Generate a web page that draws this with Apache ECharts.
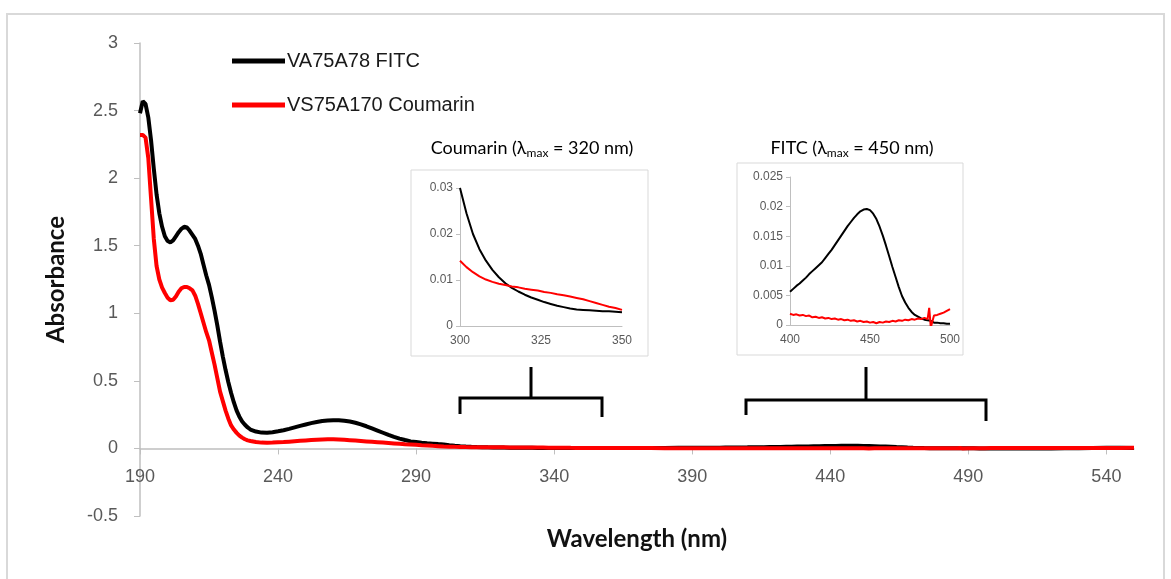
<!DOCTYPE html>
<html>
<head>
<meta charset="utf-8">
<script src="https://cdn.jsdelivr.net/npm/echarts@6/dist/echarts.min.js"></script>
<style>
  html, body { margin: 0; padding: 0; background: #fff; }
  #chart { width: 1171px; height: 579px; }
</style>
</head>
<body>
<div id="chart"></div>
<script>
// UV-Vis absorbance spectra, read in segments (wavelength in nm)
const wlA = [190,191,192,193,194,195,196,197,198,199,200,201,202,203,204,205,206,207,208,209,210,211,212,213,214,215,216,217,218,219,220,221,222,223,224,225,226,227,228,229,230,232,234,236,238,240,242,244,246,248,250,252,254,256,258,260,262,264,266,268,270,272,274,276,278,280,282,284,286,288,290,292,294,296,298];
const fitcA = [2.48,2.57,2.55,2.45,2.28,2.07,1.88,1.74,1.64,1.57,1.535,1.525,1.54,1.57,1.60,1.625,1.64,1.635,1.61,1.58,1.55,1.50,1.44,1.36,1.28,1.21,1.12,1.02,0.91,0.79,0.68,0.58,0.49,0.41,0.34,0.28,0.235,0.20,0.175,0.155,0.14,0.125,0.117,0.116,0.12,0.127,0.135,0.145,0.156,0.167,0.177,0.187,0.196,0.203,0.207,0.209,0.208,0.205,0.199,0.19,0.178,0.164,0.148,0.132,0.116,0.10,0.086,0.073,0.062,0.052,0.047,0.042,0.038,0.035,0.032];
const coumA = [2.32,2.32,2.30,2.15,1.85,1.55,1.35,1.25,1.19,1.15,1.115,1.096,1.10,1.125,1.16,1.185,1.195,1.195,1.185,1.17,1.13,1.07,1.00,0.93,0.86,0.80,0.71,0.62,0.52,0.42,0.35,0.28,0.22,0.17,0.14,0.115,0.095,0.08,0.068,0.06,0.055,0.047,0.043,0.042,0.043,0.045,0.047,0.050,0.053,0.056,0.059,0.062,0.064,0.066,0.067,0.067,0.066,0.064,0.061,0.058,0.055,0.052,0.049,0.046,0.043,0.040,0.037,0.034,0.031,0.029,0.027,0.024,0.022,0.019,0.017];

// 300-350 nm (Coumarin inset range)
const wlCoumRange = [300,302,304,306,308,310,312,314,316,318,320,322,324,326,328,330,332,334,336,338,340,342,344,346,348,350];
const fitcCoumRange = [0.030,0.0245,0.020,0.0167,0.0142,0.0122,0.0106,0.0093,0.0083,0.0075,0.0068,0.0062,0.0057,0.0052,0.0048,0.0044,0.0041,0.0038,0.0036,0.0035,0.0034,0.0033,0.0032,0.0032,0.0031,0.0030];
const coumCoumRange = [0.0142,0.0128,0.0117,0.0108,0.0101,0.0096,0.0092,0.0089,0.0086,0.0084,0.0081,0.0079,0.0077,0.0074,0.0072,0.0069,0.0067,0.0064,0.0061,0.0058,0.0054,0.0050,0.0046,0.0042,0.0039,0.0035];

const wlB = [355,360,365,370,375,380,385,390,395];
const fitcB = [0.0028,0.0027,0.0028,0.0030,0.0033,0.0037,0.0043,0.0050,0.0055];
const coumB = [0.0032,0.0030,0.0029,0.0027,0.0025,0.0022,0.0020,0.0019,0.0018];

// 400-500 nm (FITC inset range)
const wlFitcRange = [400,402,404,406,408,410,412,414,416,418,420,422,424,426,428,430,432,434,436,438,440,442,444,446,448,450,452,454,456,458,460,462,464,466,468,470,472,474,476,478,480,482,484,486,487,488,490,492,494,496,498,500];
const fitcFitcRange = [0.0056,0.0061,0.0066,0.0070,0.0075,0.0080,0.0086,0.0091,0.0096,0.0101,0.0106,0.0113,0.0120,0.0127,0.0135,0.0143,0.0151,0.0159,0.0167,0.0174,0.0181,0.0187,0.0192,0.0195,0.0196,0.0194,0.0188,0.0179,0.0166,0.0151,0.0134,0.0116,0.0098,0.0081,0.0064,0.0049,0.0038,0.0029,0.0022,0.0017,0.0014,0.0011,0.0009,0.0008,0.0008,0.0007,0.0004,0.0004,0.0003,0.0003,0.0002,0.0002];
const coumFitcRange = [0.0019,0.0017,0.0018,0.0016,0.0017,0.0015,0.0016,0.0013,0.0014,0.0012,0.0013,0.0011,0.0012,0.0010,0.0011,0.0009,0.0010,0.0008,0.0009,0.0007,0.0008,0.0006,0.0007,0.0005,0.0006,0.0004,0.0005,0.0003,0.0005,0.0004,0.0006,0.0005,0.0007,0.0006,0.0008,0.0007,0.0009,0.0008,0.0010,0.0009,0.0011,0.0010,0.0012,0.0010,0.0029,-0.0004,0.0016,0.0017,0.0019,0.0021,0.0024,0.0027];

const wlC = [505,510,515,520,525,530,535,540,545,550];
const fitcC = [0.0002,0.0002,0.0003,0.0003,0.0004,0.0005,0.004,0.005,0.005,0.004];
const coumC = [0.0030,0.0033,0.0035,0.0036,0.0037,0.0038,0.0039,0.0040,0.0040,0.0041];

const xTicks = [190,240,290,340,390,440,490,540];
const seriesNames = ['VA75A78 FITC', 'VS75A170 Coumarin'];
const insetTitles = [
  '{a|Coumarin (λ}{s|max}{a| = 320 nm)}',
  '{a|FITC (λ}{s|max}{a| = 450 nm)}'
];

function pairs(xs, ys) { return xs.map((x, i) => [x, ys[i]]); }
const fitcAll = [].concat(pairs(wlA, fitcA), pairs(wlCoumRange, fitcCoumRange), pairs(wlB, fitcB), pairs(wlFitcRange, fitcFitcRange), pairs(wlC, fitcC));
const coumAll = [].concat(pairs(wlA, coumA), pairs(wlCoumRange, coumCoumRange), pairs(wlB, coumB), pairs(wlFitcRange, coumFitcRange), pairs(wlC, coumC));

const NUM_FONT = '"Liberation Sans", Arial, sans-serif';
const TITLE_FONT = 'Lato, "Open Sans", sans-serif';
const AXIS_GRAY = '#bfbfbf';
const LABEL_GRAY = '#595959';

// main plot area and y range; the wavelength axis is drawn where absorbance = 0
const MAIN = { left: 140, right: 37, top: 43, bottom: 63 };
const Y_MIN = -0.5, Y_MAX = 3;
const mainHeight = 579 - MAIN.top - MAIN.bottom;
const zeroOffset = (0 - Y_MIN) / (Y_MAX - Y_MIN) * mainHeight;

function insetAxes(gridIndex, xmin, xmax, xint, ymax, yint) {
  return {
    x: {
      type: 'value', gridIndex, min: xmin, max: xmax, interval: xint,
      axisLine: { lineStyle: { color: AXIS_GRAY } },
      axisTick: { show: false },
      splitLine: { show: false },
      axisLabel: { color: LABEL_GRAY, fontFamily: NUM_FONT, fontSize: 12, margin: 9 }
    },
    y: {
      type: 'value', gridIndex, min: 0, max: ymax, interval: yint,
      axisLine: { show: true, lineStyle: { color: AXIS_GRAY } },
      axisTick: { show: true, inside: false, length: 4, lineStyle: { color: AXIS_GRAY } },
      splitLine: { show: false },
      axisLabel: { color: LABEL_GRAY, fontFamily: NUM_FONT, fontSize: 12, margin: 7 }
    }
  };
}
const in1 = insetAxes(1, 300, 350, 25, 0.03, 0.01);
const in2 = insetAxes(2, 400, 500, 50, 0.025, 0.005);

const chart = echarts.init(document.getElementById('chart'), null, { renderer: 'canvas' });

const titleRich = {
  a: { fontFamily: TITLE_FONT, fontSize: 18, fill: '#000', lineHeight: 22 },
  s: { fontFamily: TITLE_FONT, fontSize: 12, fill: '#000', lineHeight: 9, verticalAlign: 'bottom' }
};

const option = {
  backgroundColor: '#ffffff',
  animation: false,
  legend: {
    orient: 'vertical',
    left: 227, top: 46,
    itemWidth: 53, itemHeight: 5, itemGap: 24,
    icon: 'rect',
    data: seriesNames,
    textStyle: { fontFamily: NUM_FONT, fontSize: 20, color: '#1a1a1a', padding: [0, 0, 0, -3] }
  },
  grid: [
    { left: MAIN.left, right: MAIN.right, top: MAIN.top, bottom: MAIN.bottom, outerBoundsMode: 'none' },
    { left: 460, width: 162, top: 188, height: 138, outerBoundsMode: 'none' },
    { left: 790, width: 160, top: 177, height: 148, outerBoundsMode: 'none' }
  ],
  xAxis: [
    {
      type: 'value', gridIndex: 0, min: 190, max: 550,
      position: 'bottom', offset: -zeroOffset,
      name: 'Wavelength (nm)', nameLocation: 'middle', nameGap: 79,
      nameTextStyle: { fontFamily: TITLE_FONT, fontWeight: 'bold', fontSize: 24, color: '#111' },
      axisLine: { onZero: false, lineStyle: { color: AXIS_GRAY, width: 1.5 } },
      axisTick: { show: true, length: 6, customValues: xTicks, lineStyle: { color: AXIS_GRAY } },
      axisLabel: { customValues: xTicks, color: LABEL_GRAY, fontFamily: NUM_FONT, fontSize: 18, margin: 20 },
      splitLine: { show: false }
    },
    in1.x, in2.x
  ],
  yAxis: [
    {
      type: 'value', gridIndex: 0, min: Y_MIN, max: Y_MAX, interval: 0.5,
      name: 'Absorbance', nameLocation: 'middle', nameGap: 72, nameRotate: 90,
      nameTextStyle: { fontFamily: TITLE_FONT, fontWeight: 'bold', fontSize: 24, color: '#111' },
      axisLine: { show: true, lineStyle: { color: AXIS_GRAY, width: 1.5 } },
      axisTick: { show: true, length: 6, lineStyle: { color: AXIS_GRAY } },
      axisLabel: { color: LABEL_GRAY, fontFamily: NUM_FONT, fontSize: 18, margin: 22 },
      splitLine: { show: false }
    },
    in1.y, in2.y
  ],
  series: [
    { name: seriesNames[0], type: 'line', xAxisIndex: 0, yAxisIndex: 0, data: fitcAll, showSymbol: false, color: '#000000', lineStyle: { width: 4, color: '#000000' }, z: 3 },
    { name: seriesNames[1], type: 'line', xAxisIndex: 0, yAxisIndex: 0, data: coumAll, showSymbol: false, color: '#ff0000', lineStyle: { width: 4, color: '#ff0000' }, z: 4 },
    { type: 'line', xAxisIndex: 1, yAxisIndex: 1, data: pairs(wlCoumRange, fitcCoumRange), showSymbol: false, lineStyle: { width: 2, color: '#000000' }, z: 3, clip: true },
    { type: 'line', xAxisIndex: 1, yAxisIndex: 1, data: pairs(wlCoumRange, coumCoumRange), showSymbol: false, lineStyle: { width: 2, color: '#ff0000' }, z: 4, clip: true },
    { type: 'line', xAxisIndex: 2, yAxisIndex: 2, data: pairs(wlFitcRange, fitcFitcRange), showSymbol: false, lineStyle: { width: 2, color: '#000000' }, z: 3, clip: true },
    { type: 'line', xAxisIndex: 2, yAxisIndex: 2, data: pairs(wlFitcRange, coumFitcRange), showSymbol: false, lineStyle: { width: 2, color: '#ff0000' }, z: 4, clip: true }
  ],
  graphic: [
    // outer frame
    { type: 'rect', shape: { x: 7, y: 14, width: 1157, height: 600 }, style: { fill: 'none', stroke: '#d9d9d9', lineWidth: 2 }, z: -10 },
    // inset frames
    { type: 'rect', shape: { x: 411, y: 170, width: 237, height: 186 }, style: { fill: '#fff', stroke: '#d9d9d9', lineWidth: 1 }, z: -5 },
    { type: 'rect', shape: { x: 737, y: 163, width: 226, height: 192 }, style: { fill: '#fff', stroke: '#d9d9d9', lineWidth: 1 }, z: -5 },
    // inset titles
    { type: 'text', x: 532, y: 148, style: { text: insetTitles[0], align: 'center', verticalAlign: 'middle', rich: titleRich } },
    { type: 'text', x: 852, y: 148, style: { text: insetTitles[1], align: 'center', verticalAlign: 'middle', rich: titleRich } },
    // brackets
    { type: 'polyline', shape: { points: [[460, 414], [460, 398], [602, 398], [602, 417]] }, style: { stroke: '#000', lineWidth: 3, fill: 'none' } },
    { type: 'line', shape: { x1: 531, y1: 367, x2: 531, y2: 398 }, style: { stroke: '#000', lineWidth: 3 } },
    { type: 'polyline', shape: { points: [[746, 415], [746, 400], [986, 400], [986, 421]] }, style: { stroke: '#000', lineWidth: 3, fill: 'none' } },
    { type: 'line', shape: { x1: 866, y1: 367, x2: 866, y2: 400 }, style: { stroke: '#000', lineWidth: 3 } }
  ]
};

chart.setOption(option);
</script>
</body>
</html>
